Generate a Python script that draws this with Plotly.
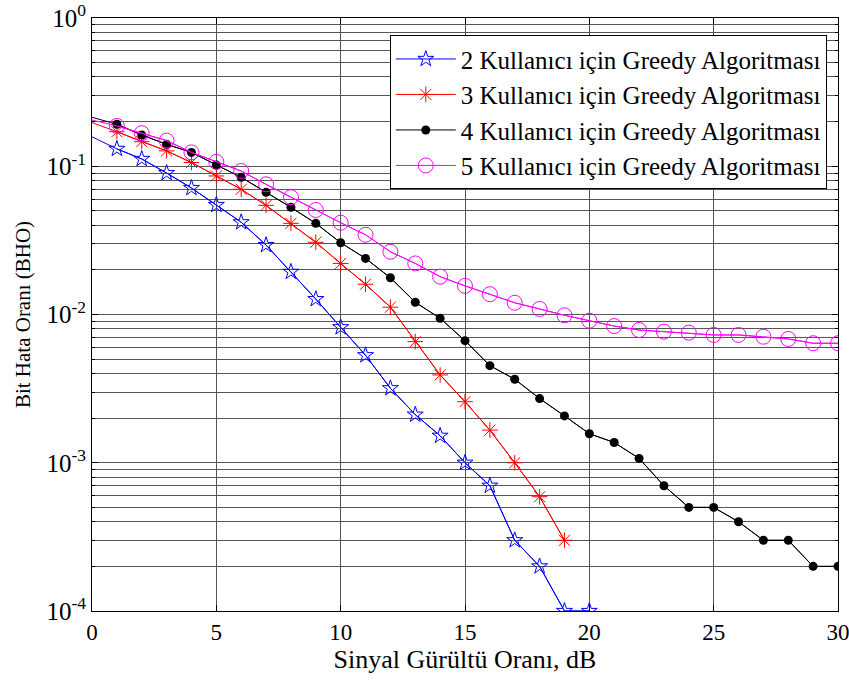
import plotly.graph_objects as go

snr = list(range(0, 31))

ber_2 = [0.158, 0.131, 0.112, 0.090, 0.0713, 0.0548, 0.0419, 0.0294, 0.0194, 0.0127, 0.0082,
         0.00531, 0.00318, 0.00211, 0.00152, 0.001, 0.0007, 0.0003, 0.0002, 0.0001, 0.0001]
ber_3 = [0.197, 0.171, 0.1465, 0.127, 0.106, 0.086, 0.0699, 0.0545, 0.0412, 0.0307, 0.0221,
         0.016, 0.0112, 0.00656, 0.00391, 0.00258, 0.00166, 0.001, 0.00059, 0.0003]
ber_4 = [0.214, 0.192, 0.1625, 0.1406, 0.124, 0.102, 0.0842, 0.0667, 0.0528, 0.0412, 0.0305,
         0.0239, 0.0177, 0.0121, 0.00942, 0.00666, 0.00452, 0.00366, 0.00271, 0.00207, 0.00157,
         0.00137, 0.00107, 0.0007, 0.0005, 0.0005, 0.0004, 0.0003, 0.0003, 0.0002, 0.0002]
ber_5 = [0.205, 0.187, 0.167, 0.149, 0.124, 0.107, 0.0929, 0.0755, 0.0618, 0.0507, 0.0416,
         0.0345, 0.0265, 0.0221, 0.018, 0.0156, 0.0137, 0.012, 0.0109, 0.00988, 0.00908,
         0.00836, 0.00786, 0.00766, 0.00754, 0.00728, 0.00728, 0.00708, 0.00684, 0.0064, 0.0064]

names = ["2 Kullanıcı için Greedy Algoritması",
         "3 Kullanıcı için Greedy Algoritması",
         "4 Kullanıcı için Greedy Algoritması",
         "5 Kullanıcı için Greedy Algoritması"]

x_ticks = [0, 5, 10, 15, 20, 25, 30]
y_tickvals = [1e-4, 1e-3, 1e-2, 1e-1, 1]
y_ticktext = ["10<sup>-4</sup>", "10<sup>-3</sup>", "10<sup>-2</sup>", "10<sup>-1</sup>", "10<sup>0</sup>"]

series = [
    (ber_2, "#0000FF", dict(symbol="star-open", size=12, color="#0000FF", line=dict(width=1, color="#0000FF"))),
    (ber_3, "#FF0000", dict(symbol="asterisk-open", size=13, color="#FF0000", line=dict(width=1, color="#FF0000"))),
    (ber_4, "#000000", dict(symbol="circle", size=9, color="#000000", line=dict(width=0))),
    (ber_5, "#FF00FF", dict(symbol="circle-open", size=15, color="#FF00FF", line=dict(width=1, color="#FF00FF"))),
]

font_family = "Liberation Serif"

fig = go.Figure()
for (vals, col, mk), nm in zip(series, names):
    xs = snr[:len(vals)]
    fig.add_trace(go.Scatter(x=xs, y=vals, mode="lines", line=dict(color=col, width=1),
                             showlegend=False, hoverinfo="skip"))
    fig.add_trace(go.Scatter(x=xs[1:], y=vals[1:], mode="lines+markers", name=nm,
                             line=dict(color=col, width=1), marker=mk))

axis_common = dict(
    showline=True, linecolor="black", linewidth=1, mirror="allticks",
    ticks="inside", tickcolor="black", ticklen=6,
    showgrid=True, gridcolor="#555555", gridwidth=1,
    zeroline=False, automargin=False, ticklabeloverflow="allow",
)

fig.update_xaxes(range=[0, 30], tickvals=x_ticks,
                 tickfont=dict(family=font_family, size=23, color="black"),
                 title=dict(text="Sinyal Gürültü Oranı, dB", font=dict(family=font_family, size=26, color="black"), standoff=4),
                 **axis_common)
fig.update_yaxes(type="log", range=[-4, 0], tickvals=y_tickvals, ticktext=y_ticktext,
                 tickfont=dict(family=font_family, size=25, color="black"),
                 ticklabelstandoff=0,
                 title=dict(text="Bit Hata Oranı (BHO)", font=dict(family=font_family, size=21, color="black"), standoff=10),
                 minor=dict(ticks="inside", ticklen=3, tickcolor="black", showgrid=True,
                            gridcolor="#555555", gridwidth=1, dtick="D1"),
                 **axis_common)

fig.update_layout(
    width=849, height=684,
    margin=dict(l=92, r=11, t=18, b=73),
    paper_bgcolor="white", plot_bgcolor="white",
    font=dict(family=font_family, color="black"),
    legend=dict(x=0.985, y=0.971, xanchor="right", yanchor="top",
                bgcolor="white", bordercolor="black", borderwidth=1,
                font=dict(family=font_family, size=25, color="black"),
                tracegroupgap=0, itemwidth=60),
)

fig.write_html("out.html")
